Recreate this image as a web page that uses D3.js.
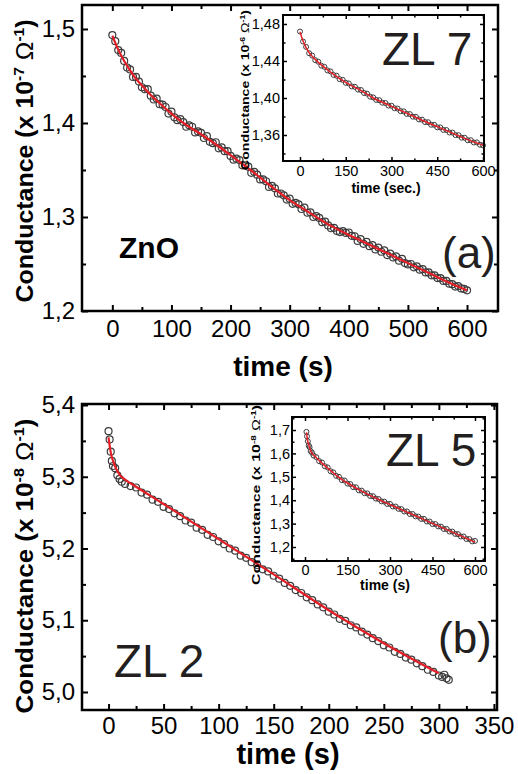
<!DOCTYPE html>
<html>
<head>
<meta charset="utf-8">
<script src="https://cdn.jsdelivr.net/npm/d3@7.9.0/dist/d3.min.js"></script>
<style>
  body { margin: 0; background: #fff; }
  svg { display: block; }
</style>
</head>
<body>
<svg id="chart" width="518" height="774"></svg>
<script>
// ---- panel (a): ZnO, sampled every 5 s ----
const znoStep = 5;
const znoG = [
  1.4935, 1.4870, 1.4775, 1.4745, 1.4660, 1.4590, 1.4570, 1.4490, 1.4490, 1.4440,
  1.4380, 1.4360, 1.4360, 1.4290, 1.4250, 1.4260, 1.4200, 1.4195, 1.4170, 1.4100,
  1.4120, 1.4060, 1.4030, 1.4040, 1.4010, 1.3960, 1.3975, 1.3960, 1.3900, 1.3910,
  1.3895, 1.3840, 1.3860, 1.3800, 1.3785, 1.3795, 1.3730, 1.3740, 1.3700, 1.3700,
  1.3650, 1.3610, 1.3620, 1.3605, 1.3550, 1.3550, 1.3535, 1.3470, 1.3480, 1.3450,
  1.3400, 1.3400, 1.3380, 1.3320, 1.3330, 1.3305, 1.3250, 1.3250, 1.3230, 1.3185,
  1.3195, 1.3140, 1.3150, 1.3135, 1.3085, 1.3100, 1.3045, 1.3050, 1.3000, 1.3010,
  1.2990, 1.2945, 1.2950, 1.2910, 1.2880, 1.2885, 1.2850, 1.2840, 1.2850, 1.2830,
  1.2835, 1.2800, 1.2795, 1.2745, 1.2765, 1.2715, 1.2735, 1.2690, 1.2700, 1.2655,
  1.2675, 1.2630, 1.2645, 1.2595, 1.2610, 1.2570, 1.2580, 1.2535, 1.2555, 1.2510,
  1.2495, 1.2500, 1.2465, 1.2475, 1.2440, 1.2445, 1.2410, 1.2410, 1.2380, 1.2380,
  1.2350, 1.2350, 1.2320, 1.2320, 1.2290, 1.2285, 1.2260, 1.2265, 1.2240, 1.2235,
  1.2220
];
const znoFitT = [0, 10, 20, 30, 40, 50, 60, 80, 100, 120, 150, 180, 210, 240, 270, 300, 330, 360, 390, 420, 450, 480, 510, 540, 570, 600];
const znoFitG = [1.493, 1.478, 1.466, 1.456, 1.447, 1.440, 1.433, 1.421, 1.410, 1.400, 1.388, 1.375, 1.361, 1.347, 1.332, 1.318, 1.306, 1.294, 1.284, 1.275, 1.266, 1.257, 1.248, 1.239, 1.230, 1.222];

// ---- inset ZL 7, sampled every 10 s ----
const zl7Step = 10;
const zl7G = [
  1.4718, 1.4610, 1.4552, 1.4484, 1.4458, 1.4409, 1.4392, 1.4349, 1.4337, 1.4298,
  1.4287, 1.4249, 1.4241, 1.4203, 1.4196, 1.4164, 1.4157, 1.4125, 1.4121, 1.4091,
  1.4086, 1.4054, 1.4047, 1.4014, 1.4006, 1.3979, 1.3976, 1.3949, 1.3946, 1.3918,
  1.3916, 1.3889, 1.3886, 1.3858, 1.3856, 1.3828, 1.3826, 1.3798, 1.3796, 1.3768,
  1.3766, 1.3740, 1.3738, 1.3711, 1.3710, 1.3683, 1.3682, 1.3655, 1.3654, 1.3627,
  1.3626, 1.3599, 1.3598, 1.3571, 1.3570, 1.3543, 1.3544, 1.3519, 1.3520, 1.3495,
  1.3488
];
const zl7FitT = [0, 10, 20, 30, 40, 60, 80, 100, 130, 160, 200, 240, 280, 320, 360, 400, 450, 500, 550, 600];
const zl7FitG = [1.4715, 1.4615, 1.4545, 1.449, 1.445, 1.4385, 1.433, 1.428, 1.421, 1.415, 1.408, 1.400, 1.394, 1.388, 1.382, 1.376, 1.369, 1.362, 1.355, 1.349];

// ---- panel (b): ZL 2 ----
const zl2T = [0, 1, 2, 3, 4, 6, 8, 10, 12, 15, 20, 25, 30, 35, 40, 45, 50, 55, 60, 65, 70, 75, 80, 85, 90, 95,
  100, 105, 110, 115, 120, 125, 130, 135, 140, 145, 150, 155, 160, 165, 170, 175, 180, 185, 190, 195,
  200, 205, 210, 215, 220, 225, 230, 235, 240, 245, 250, 255, 260, 265, 270, 275, 280, 285, 290, 295,
  300, 303, 305, 307, 309];
const zl2G = [5.3635, 5.3520, 5.3350, 5.3220, 5.3150, 5.3120, 5.3020, 5.2970, 5.2930, 5.2900, 5.2870,
  5.285, 5.278, 5.275, 5.268, 5.265, 5.258, 5.255, 5.249, 5.245, 5.239, 5.236, 5.229, 5.226, 5.219, 5.216,
  5.210, 5.206, 5.200, 5.197, 5.190, 5.187, 5.181, 5.177, 5.171, 5.168, 5.162, 5.158, 5.152, 5.148, 5.142,
  5.138, 5.132, 5.128, 5.122, 5.118, 5.112, 5.108, 5.102, 5.099, 5.093, 5.090, 5.084, 5.080, 5.075, 5.071,
  5.065, 5.062, 5.056, 5.053, 5.048, 5.045, 5.040, 5.036, 5.031, 5.028, 5.023, 5.021, 5.024, 5.019, 5.017];
const zl2FitT = [0, 2, 5, 10, 15, 20, 50, 100, 150, 200, 250, 300];
const zl2FitG = [5.355, 5.334, 5.318, 5.303, 5.296, 5.291, 5.262, 5.213, 5.164, 5.114, 5.068, 5.026];

// ---- inset ZL 5 ----
const zl5T = [5, 7, 10, 13, 16, 20, 25, 30, 40, 50, 60, 70, 80, 90, 100, 110, 120, 130, 140, 150, 160, 170, 180, 190,
  200, 210, 220, 230, 240, 250, 260, 270, 280, 290, 300, 310, 320, 330, 340, 350, 360, 370, 380, 390,
  400, 410, 420, 430, 440, 450, 460, 470, 480, 490, 500, 510, 520, 530, 540, 550, 560, 570, 580, 590, 600];
const zl5G = [1.692, 1.673, 1.652, 1.634, 1.627, 1.610, 1.603, 1.591, 1.584, 1.567, 1.561, 1.545, 1.540, 1.524,
  1.519, 1.504, 1.500, 1.486, 1.484, 1.471, 1.469, 1.456, 1.455, 1.442, 1.441, 1.430, 1.429, 1.418, 1.417,
  1.407, 1.405, 1.395, 1.394, 1.384, 1.384, 1.373, 1.373, 1.363, 1.362, 1.352, 1.352, 1.341, 1.341, 1.331,
  1.330, 1.320, 1.320, 1.309, 1.309, 1.298, 1.298, 1.288, 1.287, 1.277, 1.277, 1.266, 1.266, 1.256, 1.255,
  1.245, 1.245, 1.234, 1.234, 1.224, 1.226];
const zl5FitT = [5, 7, 10, 13, 16, 20, 25, 30, 40, 60, 80, 100, 116, 150, 200, 265, 300, 350, 400, 452, 500, 550, 600];
const zl5FitG = [1.690, 1.672, 1.650, 1.636, 1.625, 1.612, 1.600, 1.594, 1.5815, 1.5585, 1.537, 1.5165, 1.5005, 1.4735, 1.4385, 1.400, 1.3813, 1.3545, 1.3278, 1.300, 1.2743, 1.2475, 1.2207];

// tick values
const ticksA = { xMajor: [0, 100, 200, 300, 400, 500, 600], xMinor: [50, 150, 250, 350, 450, 550], yMajor: [1.2, 1.3, 1.4, 1.5], yMinor: [1.25, 1.35, 1.45] };
const ticksB = { xMajor: [0, 50, 100, 150, 200, 250, 300, 350], xMinor: [25, 75, 125, 175, 225, 275, 325], yMajor: [5.0, 5.1, 5.2, 5.3, 5.4], yMinor: [5.05, 5.15, 5.25, 5.35] };
const ticks7 = { xMajor: [0, 150, 300, 450, 600], xMinor: [75, 225, 375, 525], yMajor: [1.36, 1.40, 1.44, 1.48], yMinor: [1.34, 1.38, 1.42, 1.46] };
const ticks5 = { xMajor: [0, 150, 300, 450, 600], xMinor: [75, 225, 375, 525], yMajor: [1.2, 1.3, 1.4, 1.5, 1.6, 1.7], yMinor: [1.15, 1.25, 1.35, 1.45, 1.55, 1.65, 1.75] };

const FONT = '"Liberation Sans", Arial, Helvetica, sans-serif';
const svg = d3.select('#chart');

function commaFmt(decimals) {
  const f = d3.format(`.${decimals}f`);
  return (d) => f(d).replace('.', ',');
}

function pairs(ts, gs) {
  return gs.map((g, i) => [ts[i], g]);
}

function stepPairs(step, gs) {
  return gs.map((g, i) => [i * step, g]);
}

function drawPanel(p) {
  const x = d3.scaleLinear().domain(p.xDomain).range([p.left, p.right]);
  const y = d3.scaleLinear().domain(p.yDomain).range([p.bottom, p.top]);
  const g = svg.append('g');

  g.append('rect')
    .attr('x', p.left).attr('y', p.top)
    .attr('width', p.right - p.left).attr('height', p.bottom - p.top)
    .attr('fill', '#fff');

  g.append('g')
    .selectAll('circle')
    .data(p.points)
    .join('circle')
    .attr('cx', (d) => x(d[0]))
    .attr('cy', (d) => y(d[1]))
    .attr('r', p.r)
    .attr('fill', 'none')
    .attr('stroke', '#3c3c3c')
    .attr('stroke-width', p.dotWidth);

  const line = d3.line().x((d) => x(d[0])).y((d) => y(d[1])).curve(d3.curveMonotoneX);
  g.append('path')
    .datum(p.fit)
    .attr('d', line)
    .attr('fill', 'none')
    .attr('stroke', '#e41e26')
    .attr('stroke-width', p.fitWidth);

  const addAxis = (axis, transform, values, size, fmt, pad) => {
    const a = g.append('g')
      .attr('transform', transform)
      .call(axis.tickValues(values).tickSize(-size).tickPadding(pad).tickFormat(fmt || ''));
    a.select('.domain').remove();
    a.attr('font-family', FONT).attr('font-size', p.tickFont);
    a.selectAll('line').attr('stroke', '#000').attr('stroke-width', p.tickWidth);
    a.selectAll('text').attr('fill', '#000');
  };

  const t = p.ticks;
  addAxis(d3.axisBottom(x), `translate(0,${p.bottom})`, t.xMajor, p.major, p.fmtX, p.padX);
  addAxis(d3.axisBottom(x), `translate(0,${p.bottom})`, t.xMinor, p.minor, null, 0);
  addAxis(d3.axisTop(x), `translate(0,${p.top})`, t.xMajor, p.major, null, 0);
  addAxis(d3.axisTop(x), `translate(0,${p.top})`, t.xMinor, p.minor, null, 0);
  addAxis(d3.axisLeft(y), `translate(${p.left},0)`, t.yMajor, p.major, p.fmtY, p.padY);
  addAxis(d3.axisLeft(y), `translate(${p.left},0)`, t.yMinor, p.minor, null, 0);
  addAxis(d3.axisRight(y), `translate(${p.right},0)`, t.yMajor, p.major, null, 0);
  addAxis(d3.axisRight(y), `translate(${p.right},0)`, t.yMinor, p.minor, null, 0);

  g.append('rect')
    .attr('x', p.left).attr('y', p.top)
    .attr('width', p.right - p.left).attr('height', p.bottom - p.top)
    .attr('fill', 'none')
    .attr('stroke', '#000')
    .attr('stroke-width', p.frameWidth);

  return g;
}

// vertical conductance title with superscripts
function yTitle(g, o) {
  const txt = g.append('text')
    .attr('transform', `translate(${o.x},${o.y}) rotate(-90)`)
    .attr('text-anchor', 'middle')
    .attr('font-family', FONT)
    .attr('font-weight', 'bold')
    .attr('font-size', o.size)
    .attr('textLength', o.length)
    .attr('lengthAdjust', 'spacingAndGlyphs');
  const sup = o.size * 0.62;
  const rise = o.size * 0.38;
  txt.append('tspan').text('Conductance (x 10');
  txt.append('tspan').attr('font-size', sup).attr('dy', -rise).text(o.exp);
  txt.append('tspan').attr('dy', rise).text('\u00a0');
  txt.append('tspan').attr('font-weight', 'normal').text('\u03a9');
  txt.append('tspan').attr('font-size', sup).attr('dy', -rise).text('-1');
  txt.append('tspan').attr('dy', rise).text(')');
}

function label(g, text, x, y, size, weight, anchor, color) {
  g.append('text')
    .attr('x', x).attr('y', y)
    .attr('text-anchor', anchor || 'start')
    .attr('font-family', FONT)
    .attr('font-size', size)
    .attr('font-weight', weight || 'normal')
    .attr('fill', color || '#000')
    .text(text);
}

// ---------- top: (a) ZnO ----------
const gA = drawPanel({
  left: 82, right: 498, top: 5, bottom: 311,
  xDomain: [-51.3, 652.4], yDomain: [1.2, 1.5255],
  points: stepPairs(znoStep, znoG), fit: pairs(znoFitT, znoFitG),
  r: 3.5, dotWidth: 1.2, fitWidth: 2.2,
  ticks: ticksA, major: 6, minor: 4, tickWidth: 2,
  fmtX: (d) => d, fmtY: commaFmt(1), padX: 9, padY: 7,
  tickFont: 24, frameWidth: 2.5
});
yTitle(gA, { x: 33, y: 161, size: 24, length: 283, exp: '-7' });
label(gA, 'time (s)', 283, 376, 28, 'bold', 'middle');
label(gA, 'ZnO', 119, 258, 30, 'bold');
label(gA, '(a)', 442, 268, 44, 'normal', 'start', '#231f20');

const g7 = drawPanel({
  left: 283, right: 484, top: 15, bottom: 161,
  xDomain: [-55.7, 603.3], yDomain: [1.3319, 1.4897],
  points: stepPairs(zl7Step, zl7G), fit: pairs(zl7FitT, zl7FitG),
  r: 2.5, dotWidth: 1, fitWidth: 1.5,
  ticks: ticks7, major: 4, minor: 2.5, tickWidth: 1.5,
  fmtX: (d) => d, fmtY: commaFmt(2), padX: 5, padY: 3,
  tickFont: 14.5, frameWidth: 2
});
yTitle(g7, { x: 249, y: 90, size: 11, length: 160, exp: '-6' });
label(g7, 'time (sec.)', 386, 193, 14, 'bold', 'middle');
label(g7, 'ZL 7', 382, 65, 46, 'normal', 'start', '#231f20');

// ---------- bottom: (b) ZL 2 ----------
const gB = drawPanel({
  left: 82, right: 497, top: 404, bottom: 710,
  xDomain: [-24.1, 352.8], yDomain: [4.9749, 5.4014],
  points: pairs(zl2T, zl2G), fit: pairs(zl2FitT, zl2FitG),
  r: 3.5, dotWidth: 1.2, fitWidth: 2.2,
  ticks: ticksB, major: 6, minor: 4, tickWidth: 2,
  fmtX: (d) => d, fmtY: commaFmt(1), padX: 7, padY: 7,
  tickFont: 24, frameWidth: 2.5
});
yTitle(gB, { x: 33, y: 566, size: 24, length: 295, exp: '-8' });
label(gB, 'time (s)', 288, 764, 29, 'bold', 'middle');
label(gB, 'ZL 2', 114, 677, 46, 'normal', 'start', '#231f20');
label(gB, '(b)', 438, 653, 44, 'normal', 'start', '#231f20');

const g5 = drawPanel({
  left: 292, right: 485, top: 417, bottom: 561,
  xDomain: [-45.9, 635.3], yDomain: [1.1402, 1.7556],
  points: pairs(zl5T, zl5G), fit: pairs(zl5FitT, zl5FitG),
  r: 2.5, dotWidth: 1, fitWidth: 1.5,
  ticks: ticks5, major: 4, minor: 2.5, tickWidth: 1.5,
  fmtX: (d) => d, fmtY: commaFmt(1), padX: 4, padY: 2,
  tickFont: 14.5, frameWidth: 2
});
yTitle(g5, { x: 260, y: 495, size: 11, length: 180, exp: '-8' });
label(g5, 'time (s)', 385, 590, 14, 'bold', 'middle');
label(g5, 'ZL 5', 386, 466, 46, 'normal', 'start', '#231f20');
</script>
</body>
</html>
